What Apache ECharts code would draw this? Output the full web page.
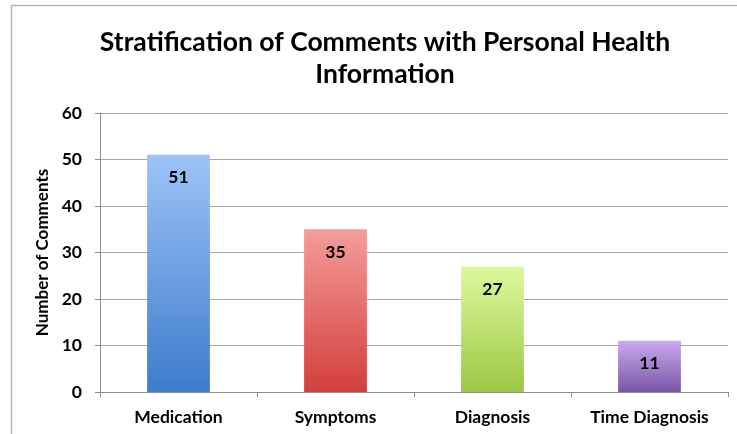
<!DOCTYPE html>
<html>
<head>
<meta charset="utf-8">
<script src="https://cdn.jsdelivr.net/npm/echarts@6/dist/echarts.min.js"></script>
<style>
  html, body { margin: 0; padding: 0; background: #fff; }
  #chart { width: 737px; height: 434px; }
</style>
</head>
<body>
<div id="chart"></div>
<script>
const categories = ["Medication", "Symptoms", "Diagnosis", "Time Diagnosis"];
const counts = [51, 35, 27, 11];
const yTicks = [0, 10, 20, 30, 40, 50, 60];

// top / bottom colours of each bar's gradient
const barColors = [
  ["#9dc3f7", "#3d7ccc"],
  ["#f59c9a", "#d33f3c"],
  ["#ddf99c", "#9cc744"],
  ["#c8aaee", "#7b56a8"],
];

const chart = echarts.init(document.getElementById("chart"));
const font = "Lato, 'Liberation Sans', sans-serif";

const option = {
  animation: false,
  title: {
    text: "Stratification of Comments with Personal Health\nInformation",
    left: 380,
    textAlign: "center",
    top: 21,
    textStyle: {
      fontFamily: font,
      fontWeight: "bold",
      fontSize: 26.5,
      lineHeight: 32,
      color: "#000",
    },
  },
  grid: {
    left: 100,
    right: 9,
    top: 113,
    bottom: 42,
  },
  xAxis: {
    type: "category",
    data: categories,
    axisLine: { lineStyle: { color: "#8c8c8c", width: 1 } },
    axisTick: { show: true, length: 5, lineStyle: { color: "#8c8c8c" } },
    axisLabel: {
      fontFamily: font,
      fontWeight: "bold",
      fontSize: 17.5,
      color: "#000",
      margin: 16,
    },
  },
  yAxis: {
    type: "value",
    min: yTicks[0],
    max: yTicks[yTicks.length - 1],
    interval: 10,
    name: "Number of Comments",
    nameLocation: "middle",
    nameGap: 41,
    nameTextStyle: {
      fontFamily: font,
      fontWeight: "bold",
      fontSize: 17,
      color: "#000",
    },
    axisLine: { show: true, lineStyle: { color: "#8c8c8c", width: 1 } },
    axisTick: { show: true, length: 5, inside: false, lineStyle: { color: "#8c8c8c" } },
    axisLabel: {
      fontFamily: font,
      fontWeight: "bold",
      fontSize: 17.5,
      color: "#000",
      margin: 18,
    },
    splitLine: { lineStyle: { color: "#a6a6a6", width: 1 } },
  },
  series: [
    {
      type: "bar",
      barWidth: "40%",
      data: counts.map((v, i) => ({
        value: v,
        itemStyle: {
          color: new echarts.graphic.LinearGradient(0, 0, 0, 1, [
            { offset: 0, color: barColors[i][0] },
            { offset: 1, color: barColors[i][1] },
          ]),
        },
      })),
      label: {
        show: true,
        position: "insideTop",
        distance: 14,
        fontFamily: font,
        fontWeight: "bold",
        fontSize: 17.5,
        color: "#000",
      },
    },
  ],
  graphic: [
    {
      type: "polyline",
      silent: true,
      shape: { points: [[11.5, 434], [11.5, 5.5], [737, 5.5]] },
      style: { stroke: "#b3b3b3", lineWidth: 1.5, fill: null },
    },
  ],
};

chart.setOption(option);
</script>
</body>
</html>
